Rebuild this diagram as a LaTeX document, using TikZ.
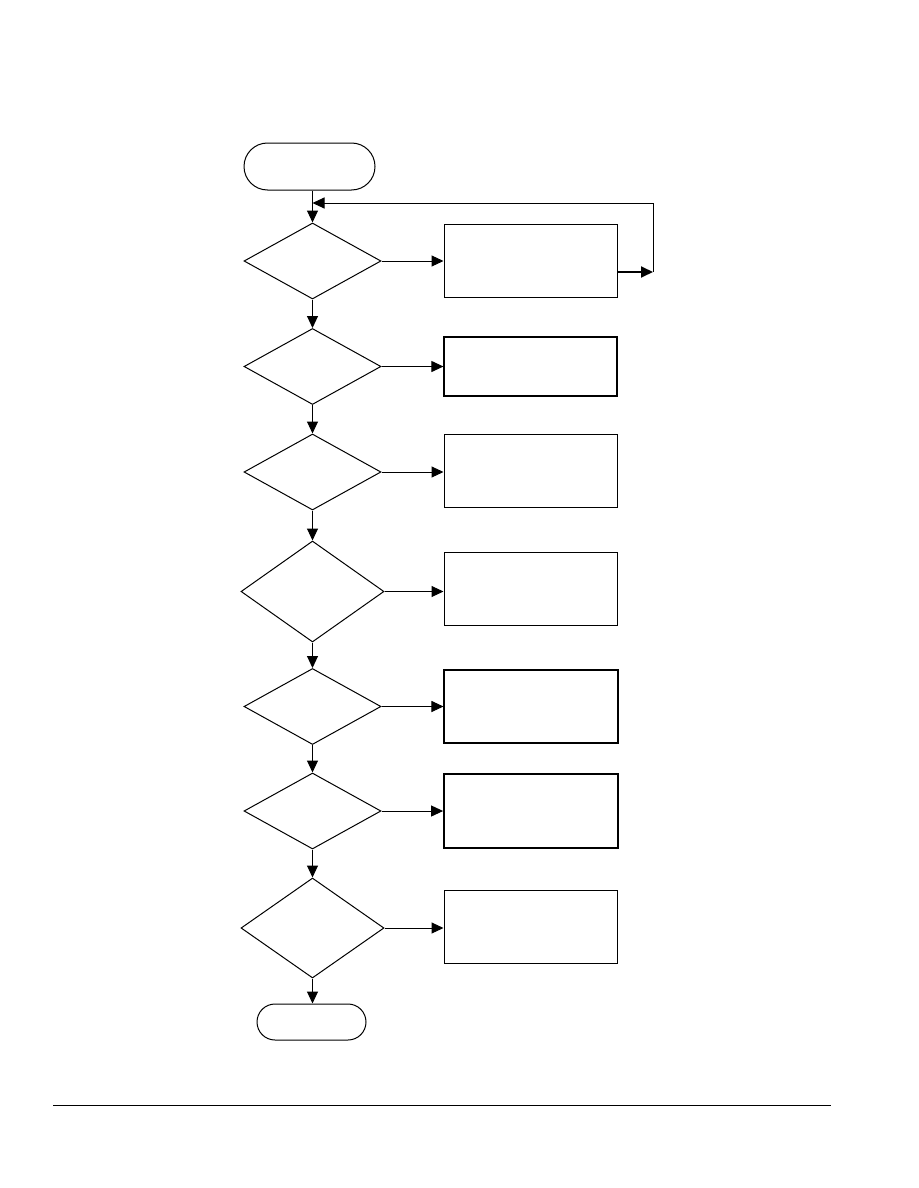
\documentclass[tikz,border=0pt]{standalone}
\usetikzlibrary{arrows.meta,shapes.geometric,shapes.misc}
\definecolor{ink}{HTML}{000000}
\tikzset{
  term/.style={rounded rectangle,draw=ink,line width=1pt,minimum width=131pt,minimum height=47pt,inner sep=0pt},
  ask/.style={diamond,draw=ink,line width=1pt,minimum width=137pt,minimum height=76pt,inner sep=0pt},
  bigask/.style={ask,minimum width=143pt,minimum height=101pt},
  act/.style={rectangle,draw=ink,line width=1pt,minimum width=173pt,minimum height=73pt,inner sep=0pt},
  flow/.style={-{Triangle[length=12pt,width=11pt]},line width=1pt,ink},
  rule/.style={line width=1pt,ink}
}
\begin{document}
\begin{tikzpicture}[x=1pt,y=-1pt]
\useasboundingbox (0,0) rectangle (918,1188);
% ================= main column =================
\node[term] (start) at (309.5,166.5) {};
\node[ask] (q1) at (312.5,261) {};
\node[ask] (q2) at (312.5,366.5) {};
\node[ask] (q3) at (312.5,472) {};
\node[bigask] (q4) at (312.5,591.5) {};
\node[ask] (q5) at (312.5,706.5) {};
\node[ask] (q6) at (312.5,811) {};
\node[bigask,minimum height=100pt] (q7) at (312.5,928) {};
\node[term,minimum width=109pt,minimum height=36pt] (stop) at (311.5,1022) {};
% ================= actions =================
\node[act] (act1) at (530.5,260.5) {};
\node[act,minimum height=59pt,line width=1.2pt] (act2) at (530.5,366.5) {};
\node[act] (act3) at (530.5,470.5) {};
\node[act] (act4) at (530.5,588.5) {};
\node[act,minimum width=174pt,line width=1.1pt] (act5) at (531,706.5) {};
\node[act,minimum width=174pt,minimum height=74pt,line width=1.8pt] (act6) at (531,811) {};
\node[act] (act7) at (530.5,926.5) {};
% ================= links =================
\draw[flow] (q1.north |- start.south) -- (q1.north);
\foreach \i/\j in {1/2,2/3,3/4,4/5,5/6,6/7}
  {\draw[flow] (q\i.south) -- (q\j.north);}
\draw[flow] (q7.south) -- (stop.north -| q7.south);
\foreach \i in {1,...,7}
  {\draw[flow] (q\i.east) -- (act\i.west |- q\i.east);}
% loop back from the first action
\coordinate (loopin) at (653,272);
\coordinate (looptop) at (653,203);
\coordinate (merge) at (312.5,203);
\draw[flow,line width=1.8pt] (act1.east |- loopin) -- (loopin);
\draw[flow] (loopin) -- (looptop) -- (merge);
% page rule
\draw[rule] (53,1105) -- (831,1105);
\end{tikzpicture}
\end{document}
